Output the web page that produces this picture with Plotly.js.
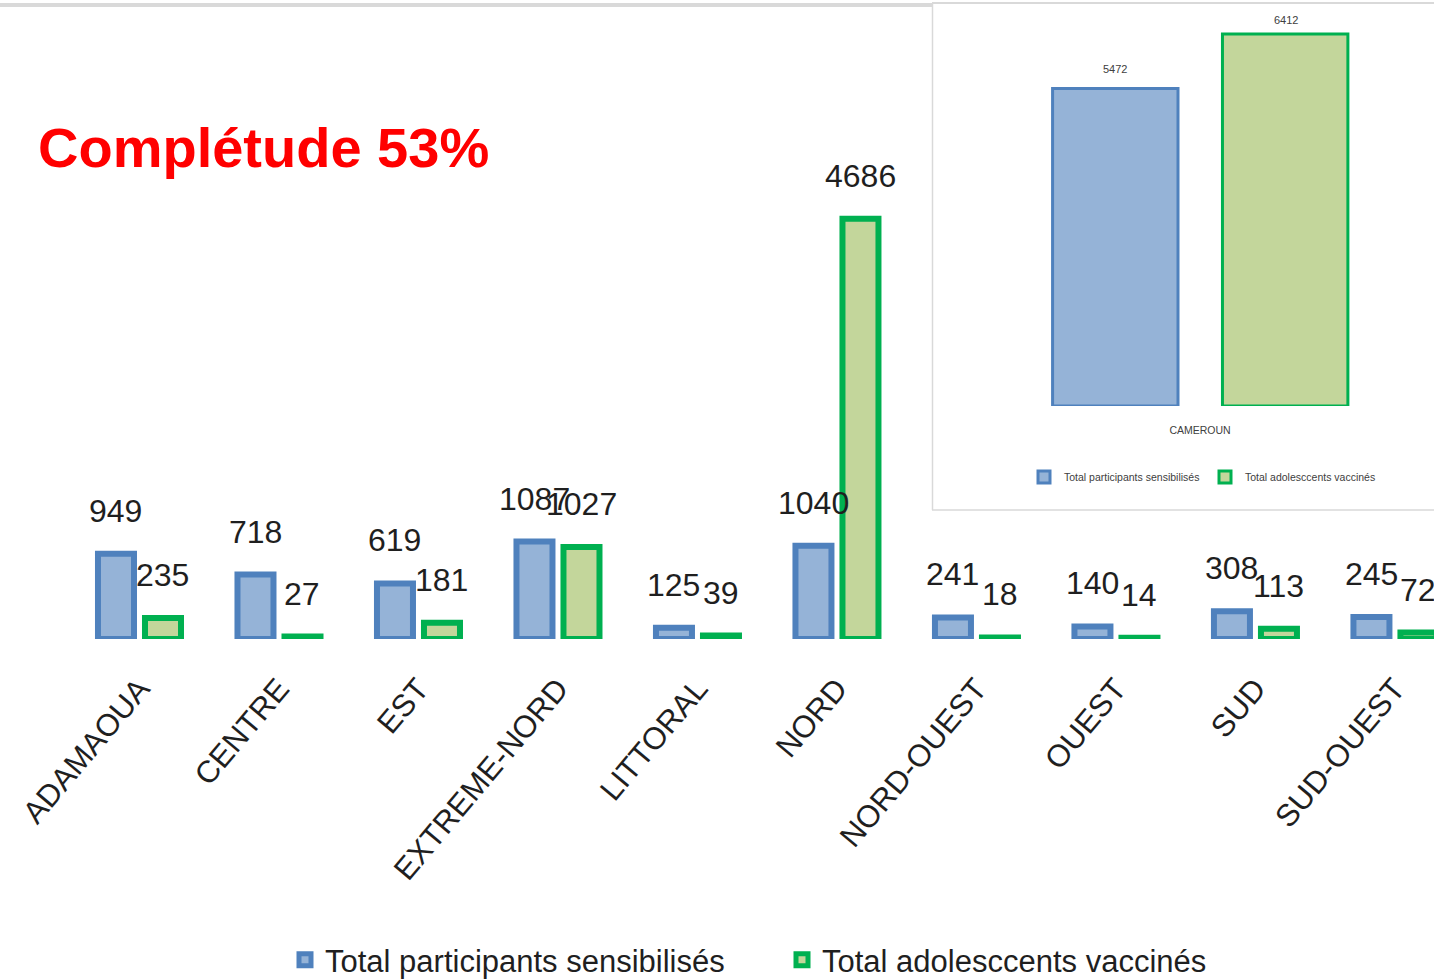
<!DOCTYPE html>
<html>
<head>
<meta charset="utf-8">
<script src="https://cdn.plot.ly/plotly-3.0.1.min.js"></script>
<style>html,body{margin:0;padding:0;background:#fff;}#chart{width:1434px;height:980px;}</style>
</head>
<body>
<div id="chart"></div>
<script>
// ---- data ----
const regions = ['ADAMAOUA','CENTRE','EST','EXTREME-NORD','LITTORAL','NORD','NORD-OUEST','OUEST','SUD','SUD-OUEST'];
const sensibilises = [949, 718, 619, 1087, 125, 1040, 241, 140, 308, 245];
const vaccines = [235, 27, 181, 1027, 39, 4686, 18, 14, 113, 72];
const national = ['CAMEROUN'];
const natSensibilises = [5472];
const natVaccines = [6412];
const seriesNames = ['Total participants sensibilisés', 'Total adolesccents vaccinés'];
const titleText = 'Complétude 53%';

// ---- styles ----
const W = 1434, H = 980;
const BLUE_LINE = '#4f81bd', BLUE_FILL = '#95b3d7';
const GREEN_LINE = '#00b050', GREEN_FILL = '#c3d69b';
const MAIN_FONT = '"Liberation Sans", Arial, sans-serif';
const TXT = '#1f1f1f';
const SMALL_TXT = '#404040';
const px = (v) => v / W;           // horizontal pixel -> paper
const py = (v) => 1 - v / H;       // vertical pixel (from top) -> paper

const traces = [
  {type:'bar', x: regions, y: sensibilises, name: seriesNames[0], xaxis:'x', yaxis:'y', legend:'legend',
   marker:{color: BLUE_FILL, line:{color: BLUE_LINE, width: 6}}, hoverinfo:'x+y'},
  {type:'bar', x: regions, y: vaccines, name: seriesNames[1], xaxis:'x', yaxis:'y', legend:'legend',
   marker:{color: GREEN_FILL, line:{color: GREEN_LINE, width: 6}}, hoverinfo:'x+y'},
  {type:'bar', x: national, y: natSensibilises, name: seriesNames[0], xaxis:'x2', yaxis:'y2', legend:'legend2',
   offset: -0.315, width: 0.268,
   marker:{color: BLUE_FILL, line:{color: BLUE_LINE, width: 3}}, hoverinfo:'x+y'},
  {type:'bar', x: national, y: natVaccines, name: seriesNames[1], xaxis:'x2', yaxis:'y2', legend:'legend2',
   offset: 0.048, width: 0.268,
   marker:{color: GREEN_FILL, line:{color: GREEN_LINE, width: 3}}, hoverinfo:'x+y'}
];

// data labels
const annotations = [];
regions.forEach((r, i) => {
  annotations.push({x: r, y: sensibilises[i], xref:'x', yref:'y', text: String(sensibilises[i]),
    showarrow:false, xshift:-23.5, yshift:43, yanchor:'middle',
    font:{family: MAIN_FONT, size: 32, color: TXT}});
  annotations.push({x: r, y: vaccines[i], xref:'x', yref:'y', text: String(vaccines[i]),
    showarrow:false, xshift:23.5, yshift:43, yanchor:'middle',
    font:{family: MAIN_FONT, size: 32, color: TXT}});
});
national.forEach((c, i) => {
  annotations.push({x: c, y: natSensibilises[i], xref:'x2', yref:'y2', text: String(natSensibilises[i]),
    showarrow:false, xshift:-85, yshift:20, yanchor:'middle',
    font:{family: MAIN_FONT, size: 11, color: SMALL_TXT}});
  annotations.push({x: c, y: natVaccines[i], xref:'x2', yref:'y2', text: String(natVaccines[i]),
    showarrow:false, xshift:85.5, yshift:14, yanchor:'middle',
    font:{family: MAIN_FONT, size: 11, color: SMALL_TXT}});
});

const layout = {
  width: W, height: H,
  margin:{l:0, r:0, t:0, b:0, pad:0, autoexpand:false},
  paper_bgcolor:'#ffffff', plot_bgcolor:'rgba(0,0,0,0)',
  barmode:'group', bargap: 0.326, bargroupgap: 0.234,
  showlegend: true,
  title:{text: titleText, x: px(38), xref:'paper', xanchor:'left', y: py(147), yref:'container', yanchor:'middle',
    font:{family: MAIN_FONT, size: 56, color:'#ff0000', weight: 'bold'}},
  xaxis:{domain:[0,1], range:[-1, 9.28], fixedrange:true, showgrid:false, zeroline:false, showline:false,
    ticks:'outside', ticklen: 18, tickcolor:'rgba(0,0,0,0)', tickangle:-50, automargin:false,
    tickfont:{family: MAIN_FONT, size: 31, color: TXT}},
  yaxis:{domain:[py(639), 1], range:[0, 639/0.0897], fixedrange:true, showgrid:false, zeroline:false,
    showline:false, showticklabels:false, ticks:''},
  xaxis2:{domain:[px(966), 1], range:[-0.5, 0.5], anchor:'y2', fixedrange:true, showgrid:false, zeroline:false,
    showline:false, ticks:'outside', ticklen: 14, tickcolor:'rgba(0,0,0,0)', automargin:false,
    tickfont:{family: MAIN_FONT, size: 10.5, color: SMALL_TXT}},
  yaxis2:{domain:[py(406), 1], range:[0, 7000], anchor:'x2', fixedrange:true, showgrid:false, zeroline:false,
    showline:false, showticklabels:false, ticks:''},
  legend:{orientation:'h', x: px(285), xanchor:'left', y: py(960), yanchor:'middle',
    font:{family: MAIN_FONT, size: 31, color: TXT}, bgcolor:'rgba(0,0,0,0)',
    entrywidth: 452, entrywidthmode:'pixels', traceorder:'normal'},
  legend2:{orientation:'h', x: px(1024), xanchor:'left', y: py(477), yanchor:'middle',
    font:{family: MAIN_FONT, size: 10.5, color: SMALL_TXT}, bgcolor:'rgba(0,0,0,0)',
    entrywidth: 136, entrywidthmode:'pixels', traceorder:'normal'},
  annotations: annotations,
  shapes:[
    {type:'line', xref:'paper', yref:'paper', x0:0, x1:px(932), y0:py(5), y1:py(5), line:{color:'#d9d9d9', width:4}},
    {type:'line', xref:'paper', yref:'paper', x0:px(932), x1:1, y0:py(3), y1:py(3), line:{color:'#d9d9d9', width:2}},
    {type:'line', xref:'paper', yref:'paper', x0:px(932.5), x1:px(932.5), y0:py(4), y1:py(510), line:{color:'#d9d9d9', width:1.5}},
    {type:'line', xref:'paper', yref:'paper', x0:px(932), x1:1, y0:py(510), y1:py(510), line:{color:'#d9d9d9', width:1.5}}
  ]
};

Plotly.newPlot('chart', traces, layout, {displayModeBar:false, responsive:false});
</script>
</body>
</html>
